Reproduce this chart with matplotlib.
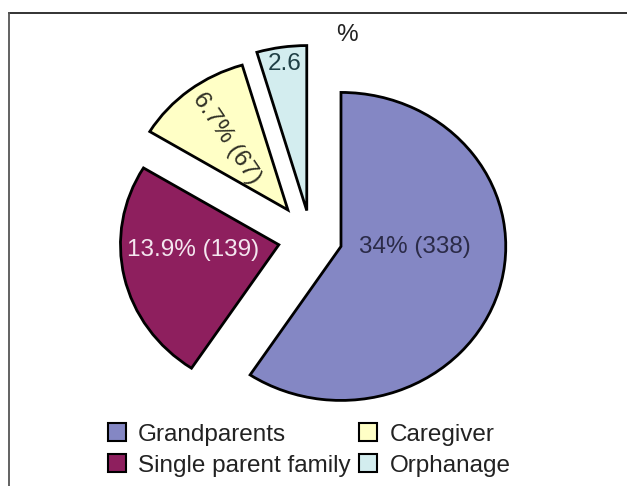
import matplotlib
matplotlib.use("Agg")
import matplotlib.pyplot as plt
from matplotlib.patches import Patch
from matplotlib.lines import Line2D

plt.rcParams['font.family'] = ['Liberation Sans', 'DejaVu Sans']

# Living arrangement data
categories = ["Grandparents", "Single parent family", "Caregiver", "Orphanage"]
counts = [338, 139, 67, 26]
pct_labels = ["34% (338)", "13.9% (139)", "6.7% (67)", "2.6"]
colors = ["#8487c4", "#8e1f5e", "#ffffc6", "#d3edef"]
explode = [0.19, 0.2, 0.23, 0.18]
slice_radius = [154, 148, 151, 165]

W, H = 627, 486
SX = 1.07  # horizontal stretch of the drawing
R = 154

fig = plt.figure(figsize=(W / 100, H / 100), dpi=100)
ax = fig.add_axes([0, 0, 1, 1])

cx, cy = 311 / SX, H - 238
wedges, _ = ax.pie(counts, colors=colors, explode=[e * R for e in explode],
                   startangle=90, counterclock=False, center=(cx, cy), radius=R,
                   wedgeprops=dict(edgecolor="black", linewidth=2.0))
for w, r in zip(wedges, slice_radius):
    w.set_radius(r)
ax.set_aspect("auto")
ax.set_xlim(0, W / SX)
ax.set_ylim(0, H)
ax.axis("off")

fs = 17.5
# slice labels
ax.text(415 / SX, H - 247, pct_labels[0], fontsize=fs, color="#2b2b48",
        ha="center", va="center")
ax.text(193 / SX, H - 250, pct_labels[1], fontsize=fs, color="#f4e6ef",
        ha="center", va="center")
ax.text(227 / SX, H - 138, pct_labels[2], fontsize=fs, color="#2f2f24",
        ha="center", va="center", rotation=-56)
ax.text(285 / SX, H - 64, pct_labels[3], fontsize=fs, color="#1f3f45",
        ha="center", va="center")
ax.text(347 / SX, H - 35, "%", fontsize=fs, color="#222222",
        ha="center", va="center")

# frame lines (top and left only)
fig.add_artist(Line2D([9 / W, 1], [1 - 13.5 / H, 1 - 13.5 / H],
                      transform=fig.transFigure, color="#222222", lw=1.3))
fig.add_artist(Line2D([9 / W, 9 / W], [0, 1 - 13.5 / H],
                      transform=fig.transFigure, color="#555555", lw=1.3))

handles = [Patch(facecolor=c, edgecolor="black", linewidth=1.5) for c in colors]
leg = fig.legend(handles, categories, loc="center",
                 bbox_to_anchor=(309 / W, 1 - 450 / H),
                 ncol=2, frameon=False, fontsize=fs, handlelength=0.75,
                 handleheight=0.75, handletextpad=0.5, columnspacing=0.35,
                 labelspacing=0.35, borderpad=0)
for t in leg.get_texts():
    t.set_color("#222222")

fig.savefig("out.png", dpi=100, facecolor="white")
